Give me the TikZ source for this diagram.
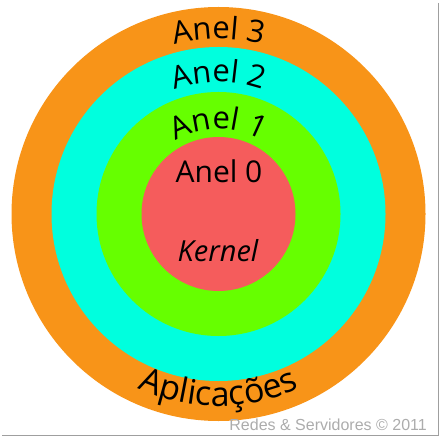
\documentclass[tikz,border=0pt]{standalone}
\usepackage{fontspec}
\setmainfont{Open Sans}
\newfontfamily\marcafont{Liberation Sans}
\usetikzlibrary{decorations.text}

\definecolor{corAnel3}{RGB}{248,148,24}
\definecolor{corAnel2}{RGB}{0,255,222}
\definecolor{corAnel1}{RGB}{102,255,0}
\definecolor{corAnel0}{RGB}{245,92,92}

\begin{document}
\begin{tikzpicture}
  [x=1pt, y=1pt,
   ring/.style={circle, draw=none, inner sep=0pt},
   rotulo/.style={font=\fontsize{30}{36}\selectfont, inner sep=0pt},
   moldura/.style={draw=gray!75, line width=1.6pt}]

  \useasboundingbox (0,0) rectangle (443,439);
  \coordinate (c) at (218.5,225);

  % Aneis
  \node[ring, fill=corAnel3, minimum size=414pt] (a3) at (c) {};
  \node[ring, fill=corAnel2, minimum size=334pt] (a2) at (c) {};
  \node[ring, fill=corAnel1, minimum size=244pt] (a1) at (c) {};
  \node[ring, fill=corAnel0, minimum size=154pt] (a0) at (c) {};

  % Textos curvos
  \path[decorate, decoration={text along path, text align=center,
        text={|\fontsize{31}{36}\selectfont|Anel 3}}]
    (c) ++(150:175) arc[start angle=150, end angle=30, radius=175];
  \path[decorate, decoration={text along path, text align=center,
        text={|\fontsize{31}{36}\selectfont|Anel 2}}]
    (c) ++(160:132) arc[start angle=160, end angle=20, radius=132];
  \path[decorate, decoration={text along path, text align=center,
        text={|\fontsize{31}{36}\selectfont|Anel 1}}]
    (c) ++(175:85) arc[start angle=175, end angle=5, radius=85];
  \path[decorate, decoration={text along path, text align=center,
        text={|\fontsize{34}{40}\selectfont|Aplicações}}]
    (c) ++(205:192) arc[start angle=205, end angle=335, radius=192];

  % Nucleo
  \node[rotulo, anchor=base] (n0) at (219,256) {Anel 0};
  \node[rotulo, anchor=base, font=\fontsize{29}{34}\selectfont\itshape] (nk) at (218,178) {Kernel};

  % Marca
  \node[anchor=base east, inner sep=0pt, text=gray!65,
        font=\marcafont\fontsize{16}{19}\selectfont] (marca) at (427,9) {Redes \& Servidores © 2011};

  % Moldura
  \coordinate (m1) at (438.5,436);
  \coordinate (m2) at (438.5,3.5);
  \coordinate (m3) at (2,3.5);
  \draw[moldura] (m1) -- (m2) -- (m3);
\end{tikzpicture}
\end{document}
